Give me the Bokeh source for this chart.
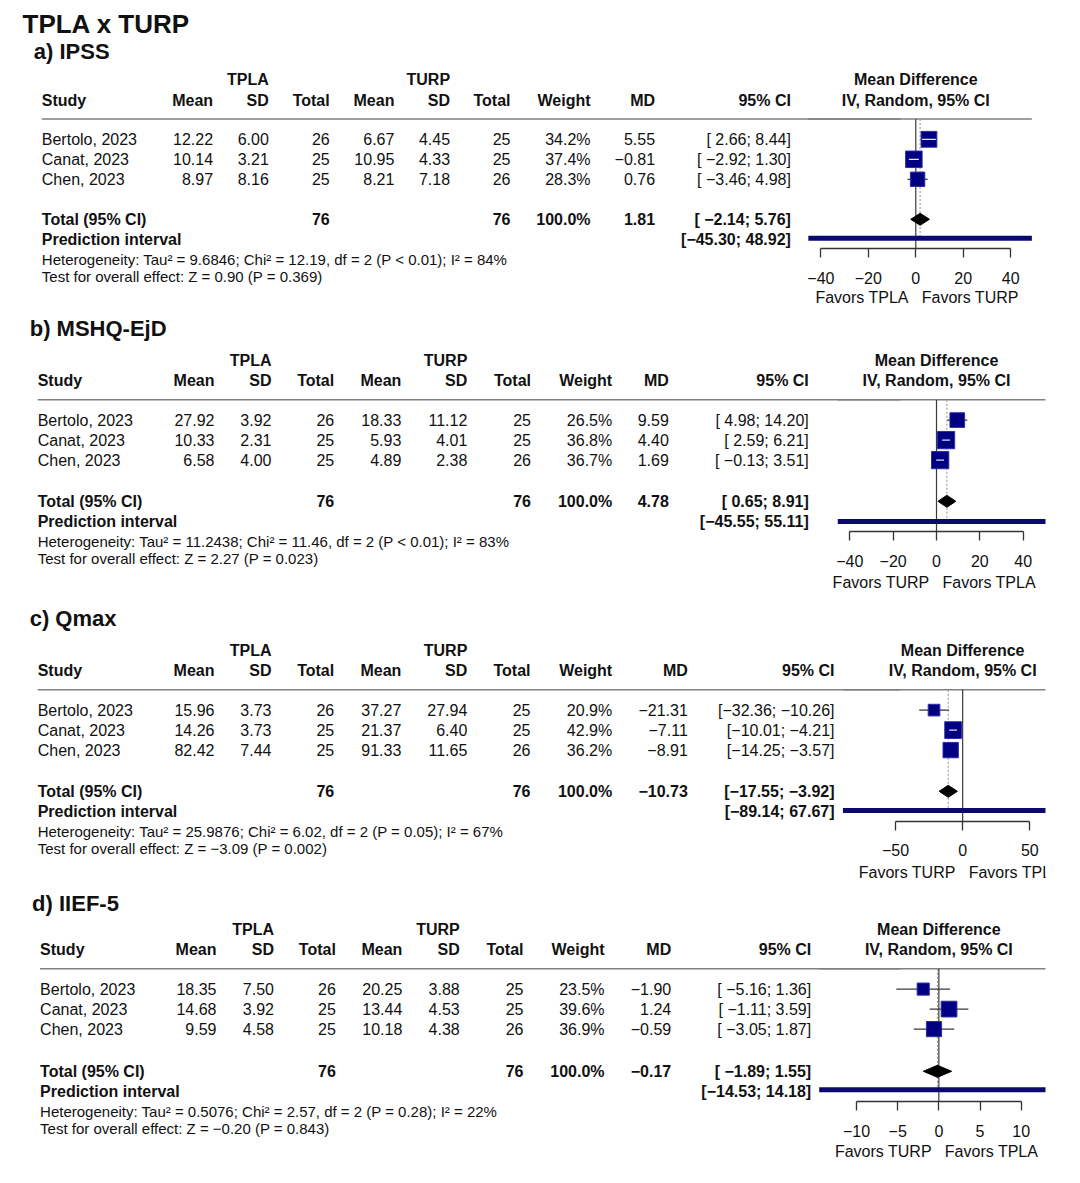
import re
import numpy as np
from bokeh.plotting import figure
from bokeh.models import Range1d, LinearAxis, FixedTicker
from bokeh.core.properties import value
from bokeh.embed import file_html
from bokeh.resources import INLINE

# ---------------- data ----------------
main_title = "TPLA x TURP"
studies = ["Bertolo, 2023", "Canat, 2023", "Chen, 2023"]
header_cols = ["Mean", "SD", "Total", "Mean", "SD", "Total", "Weight", "MD", "95% CI"]

# a) IPSS
ipss_tpla_mean = [12.22, 10.14, 8.97]
ipss_tpla_sd = [6.00, 3.21, 8.16]
ipss_tpla_n = [26, 25, 25]
ipss_turp_mean = [6.67, 10.95, 8.21]
ipss_turp_sd = [4.45, 4.33, 7.18]
ipss_turp_n = [25, 25, 26]
ipss_weight = [34.2, 37.4, 28.3]
ipss_md = [5.55, -0.81, 0.76]
ipss_lo = [2.66, -2.92, -3.46]
ipss_hi = [8.44, 1.30, 4.98]
ipss_total = [1.81, -2.14, 5.76]
ipss_pi = [-45.30, 48.92]
ipss_het = "Heterogeneity: Tau² = 9.6846; Chi² = 12.19, df = 2 (P < 0.01); I² = 84%"
ipss_test = "Test for overall effect: Z = 0.90 (P = 0.369)"
ipss_ticks = [-40, -20, 0, 20, 40]
ipss_favors = ["Favors TPLA", "Favors TURP"]

# b) MSHQ-EjD
mshq_tpla_mean = [27.92, 10.33, 6.58]
mshq_tpla_sd = [3.92, 2.31, 4.00]
mshq_tpla_n = [26, 25, 25]
mshq_turp_mean = [18.33, 5.93, 4.89]
mshq_turp_sd = [11.12, 4.01, 2.38]
mshq_turp_n = [25, 25, 26]
mshq_weight = [26.5, 36.8, 36.7]
mshq_md = [9.59, 4.40, 1.69]
mshq_lo = [4.98, 2.59, -0.13]
mshq_hi = [14.20, 6.21, 3.51]
mshq_total = [4.78, 0.65, 8.91]
mshq_pi = [-45.55, 55.11]
mshq_het = "Heterogeneity: Tau² = 11.2438; Chi² = 11.46, df = 2 (P < 0.01); I² = 83%"
mshq_test = "Test for overall effect: Z = 2.27 (P = 0.023)"
mshq_ticks = [-40, -20, 0, 20, 40]
mshq_favors = ["Favors TURP", "Favors TPLA"]

# c) Qmax
qmax_tpla_mean = [15.96, 14.26, 82.42]
qmax_tpla_sd = [3.73, 3.73, 7.44]
qmax_tpla_n = [26, 25, 25]
qmax_turp_mean = [37.27, 21.37, 91.33]
qmax_turp_sd = [27.94, 6.40, 11.65]
qmax_turp_n = [25, 25, 26]
qmax_weight = [20.9, 42.9, 36.2]
qmax_md = [-21.31, -7.11, -8.91]
qmax_lo = [-32.36, -10.01, -14.25]
qmax_hi = [-10.26, -4.21, -3.57]
qmax_total = [-10.73, -17.55, -3.92]
qmax_pi = [-89.14, 67.67]
qmax_het = "Heterogeneity: Tau² = 25.9876; Chi² = 6.02, df = 2 (P = 0.05); I² = 67%"
qmax_test = "Test for overall effect: Z = −3.09 (P = 0.002)"
qmax_ticks = [-50, 0, 50]
qmax_favors = ["Favors TURP", "Favors TPLA"]

# d) IIEF-5
iief_tpla_mean = [18.35, 14.68, 9.59]
iief_tpla_sd = [7.50, 3.92, 4.58]
iief_tpla_n = [26, 25, 25]
iief_turp_mean = [20.25, 13.44, 10.18]
iief_turp_sd = [3.88, 4.53, 4.38]
iief_turp_n = [25, 25, 26]
iief_weight = [23.5, 39.6, 36.9]
iief_md = [-1.90, 1.24, -0.59]
iief_lo = [-5.16, -1.11, -3.05]
iief_hi = [1.36, 3.59, 1.87]
iief_total = [-0.17, -1.89, 1.55]
iief_pi = [-14.53, 14.18]
iief_het = "Heterogeneity: Tau² = 0.5076; Chi² = 2.57, df = 2 (P = 0.28); I² = 22%"
iief_test = "Test for overall effect: Z = −0.20 (P = 0.843)"
iief_ticks = [-10, -5, 0, 5, 10]
iief_favors = ["Favors TURP", "Favors TPLA"]

panels = [
    dict(label="a)  IPSS", tm=ipss_tpla_mean, ts=ipss_tpla_sd, tn=ipss_tpla_n, um=ipss_turp_mean,
         us=ipss_turp_sd, un=ipss_turp_n, w=ipss_weight, md=ipss_md, lo=ipss_lo, hi=ipss_hi,
         tot=ipss_total, pi=ipss_pi, het=ipss_het, test=ipss_test, ticks=ipss_ticks, fav=ipss_favors),
    dict(label="b)  MSHQ-EjD", tm=mshq_tpla_mean, ts=mshq_tpla_sd, tn=mshq_tpla_n, um=mshq_turp_mean,
         us=mshq_turp_sd, un=mshq_turp_n, w=mshq_weight, md=mshq_md, lo=mshq_lo, hi=mshq_hi,
         tot=mshq_total, pi=mshq_pi, het=mshq_het, test=mshq_test, ticks=mshq_ticks, fav=mshq_favors),
    dict(label="c)  Qmax", tm=qmax_tpla_mean, ts=qmax_tpla_sd, tn=qmax_tpla_n, um=qmax_turp_mean,
         us=qmax_turp_sd, un=qmax_turp_n, w=qmax_weight, md=qmax_md, lo=qmax_lo, hi=qmax_hi,
         tot=qmax_total, pi=qmax_pi, het=qmax_het, test=qmax_test, ticks=qmax_ticks, fav=qmax_favors),
    dict(label="d)  IIEF-5", tm=iief_tpla_mean, ts=iief_tpla_sd, tn=iief_tpla_n, um=iief_turp_mean,
         us=iief_turp_sd, un=iief_turp_n, w=iief_weight, md=iief_md, lo=iief_lo, hi=iief_hi,
         tot=iief_total, pi=iief_pi, het=iief_het, test=iief_test, ticks=iief_ticks, fav=iief_favors),
]

# ---------------- layout (page pixels) ----------------
LAYOUT = [
    dict(sub_y=51.3, line_y=118.5, study_x=41.3,
         cols=[212.6, 268.3, 329.2, 393.9, 449.6, 510, 590, 654.6, 790.4],
         anchors=(820.4, 1010.2), sq=2.7, axis_off=129.5, fav_off=178.5, pi_off=119.3, tail=-1.2),
    dict(sub_y=327.5, line_y=399.3, study_x=37.2,
         cols=[214, 271, 333.7, 400.8, 466.8, 530.5, 611.7, 668.3, 808.3],
         anchors=(849.3, 1022.7), sq=2.85, axis_off=131.7, fav_off=182.7, pi_off=121.7, tail=0),
    dict(sub_y=617.5, line_y=689.3, study_x=37.2,
         cols=[214, 271, 333.7, 400.8, 466.8, 530, 611.7, 687.3, 834],
         anchors=(895, 1029.3), sq=2.55, axis_off=131.4, fav_off=182.4, pi_off=120.7, tail=0),
    dict(sub_y=903, line_y=968.3, study_x=39.6,
         cols=[216, 273.5, 335.4, 401.8, 459.2, 523, 604, 670.7, 810.7],
         anchors=(856, 1020.7), sq=2.5, axis_off=132.7, fav_off=182.4, pi_off=121, tail=1.0),
]

FONT = "Liberation Sans"
TXT = "#111111"
NAVY = "#000080"
X0, X1 = 0, 1045     # frame left/right in page px (page has no body margin)
Y0, Y1 = 0, 1175
W, H = 1064, 1175


def fmt(v):
    return f"{v:.2f}".replace("-", "−")


def ci_strings(los, his):
    los_s = [fmt(v) for v in los]
    his_s = [fmt(v) for v in his]
    wl = max(len(s) for s in los_s)
    wh = max(len(s) for s in his_s)
    out = []
    for a, b in zip(los_s, his_s):
        s = "[" + a.rjust(wl) + "; " + b.rjust(wh) + "]"
        out.append(re.sub(r" +", " ", s))
    return out


p = figure(width=W, height=H, x_range=Range1d(X0, X1), y_range=Range1d(Y1, Y0),
           output_backend="svg", toolbar_location=None, x_axis_location=None,
           y_axis_location=None, min_border_left=0, min_border_right=W - (X1 - X0),
           min_border_top=0, min_border_bottom=0)
p.grid.visible = False
p.outline_line_color = None
p.background_fill_color = "white"


def txt(x, y, texts, align="left", size="16px", bold=False, rn=None, x_offset=0, color=TXT):
    kw = {}
    if rn:
        kw["x_range_name"] = rn
    p.text(x=x, y=y, text=texts, text_align=align, text_baseline="middle",
           text_font=value(FONT), text_font_size=size,
           text_font_style="bold" if bold else "normal", text_color=color,
           x_offset=x_offset, **kw)


txt([22], [23.5], [main_title], size="26px", bold=True)

for i, (d, L) in enumerate(zip(panels, LAYOUT)):
    ly = L["line_y"]
    cols = L["cols"]
    sx = L["study_x"]
    t = L["tail"]
    y_tp = ly - 39.5
    y_st = ly - 19
    rows = [ly + 20.3 + 20 * k for k in range(len(studies))]
    y_tot = ly + 101.5 + t
    y_pred = ly + 121.8 + t
    y_het = ly + 141.3 + t
    y_test = ly + 158.8 + t

    # subtitle
    txt([sx - 8], [L["sub_y"]], [d["label"]], size="22px", bold=True)

    # headers
    txt([cols[1], cols[4]], [y_tp, y_tp], ["TPLA", "TURP"], align="right", bold=True)
    txt([sx], [y_st], ["Study"], bold=True)
    txt(cols, [y_st] * len(cols), header_cols, align="right", bold=True)

    # study rows
    txt([sx] * 3, rows, studies)
    n = len(studies)
    all_ci = ci_strings(d["lo"] + [d["tot"][1], d["pi"][0]], d["hi"] + [d["tot"][2], d["pi"][1]])
    columns = [
        [fmt(v) for v in d["tm"]], [fmt(v) for v in d["ts"]], [str(v) for v in d["tn"]],
        [fmt(v) for v in d["um"]], [fmt(v) for v in d["us"]], [str(v) for v in d["un"]],
        [f"{v:.1f}%" for v in d["w"]], [fmt(v) for v in d["md"]], all_ci[:n],
    ]
    for cx, vals in zip(cols, columns):
        txt([cx] * n, rows, vals, align="right")

    # total / prediction rows
    txt([sx, sx], [y_tot, y_pred], ["Total (95% CI)", "Prediction interval"], bold=True)
    txt([cols[2], cols[5], cols[6], cols[7], cols[8]], [y_tot] * 5,
        [str(sum(d["tn"])), str(sum(d["un"])), "100.0%", fmt(d["tot"][0]), all_ci[n]],
        align="right", bold=True)
    txt([cols[8]], [y_pred], [all_ci[n + 1]], align="right", bold=True)
    txt([sx, sx], [y_het, y_test], [d["het"], d["test"]], size="15px")

    # ---- forest part ----
    ticks = d["ticks"]
    px0, px1 = L["anchors"]
    scale = (px1 - px0) / (ticks[-1] - ticks[0])
    rn = f"f{i}"
    p.extra_x_ranges[rn] = Range1d(ticks[0] + (X0 - px0) / scale, ticks[0] + (X1 - px0) / scale)

    y_axis = ly + L["axis_off"]
    y_pi = ly + L["pi_off"]
    y_fav = ly + L["fav_off"]

    # header rule (table part + forest part)
    p.segment(x0=[sx], x1=[900], y0=[ly], y1=[ly], line_color="#808080", line_width=1.6)
    p.segment(x0=[d["pi"][0]], x1=[d["pi"][1]], y0=[ly], y1=[ly], line_color="#808080",
              line_width=1.6, x_range_name=rn)

    txt([0], [y_tp], ["Mean Difference"], align="center", bold=True, rn=rn)
    txt([0], [y_st], ["IV, Random, 95% CI"], align="center", bold=True, rn=rn)

    # reference lines
    p.segment(x0=[0], x1=[0], y0=[ly], y1=[y_axis], line_color="#3a3a3a", line_width=1.2,
              x_range_name=rn)
    p.segment(x0=[d["tot"][0]], x1=[d["tot"][0]], y0=[ly], y1=[y_pi], line_color="#a0a0a0",
              line_width=1.2, line_dash="2 2", x_range_name=rn)

    # CIs and squares
    p.segment(x0=d["lo"], x1=d["hi"], y0=rows, y1=rows, line_color="#3a3a3a", line_width=1.3,
              x_range_name=rn)
    sizes = [L["sq"] * np.sqrt(w) for w in d["w"]]
    p.scatter(x=d["md"], y=rows, marker="square", size=sizes, fill_color=NAVY,
              line_color="#2c2ca8", line_width=1, x_range_name=rn)
    inside = [k for k in range(n) if (d["hi"][k] - d["lo"][k]) * scale < sizes[k] - 1]
    if inside:
        p.segment(x0=[d["lo"][k] for k in inside], x1=[d["hi"][k] for k in inside],
                  y0=[rows[k] for k in inside], y1=[rows[k] for k in inside],
                  line_color="#e8e8ff", line_width=1.2, x_range_name=rn)

    # pooled diamond
    h = 6
    md_t, lo_t, hi_t = d["tot"]
    p.patches(xs=[[lo_t, md_t, hi_t, md_t]], ys=[[y_tot, y_tot - h, y_tot, y_tot + h]],
              fill_color="black", line_color="black", line_width=1, x_range_name=rn)

    # prediction interval
    p.segment(x0=[d["pi"][0]], x1=[d["pi"][1]], y0=[y_pi], y1=[y_pi], line_color="#0a0a6e",
              line_width=5, x_range_name=rn)

    # axis
    ax = LinearAxis(x_range_name=rn, ticker=FixedTicker(ticks=ticks, minor_ticks=[]),
                    bounds=(ticks[0], ticks[-1]), fixed_location=y_axis,
                    major_tick_out=9, major_tick_in=0, minor_tick_out=0, minor_tick_in=0,
                    axis_line_color="#333333", axis_line_width=1.3,
                    major_tick_line_color="#333333", major_tick_line_width=1.3,
                    major_label_text_font=FONT, major_label_text_font_size="16px",
                    major_label_text_color=TXT, major_label_standoff=14,
                    major_label_overrides={tk: str(tk).replace("-", "−") for tk in ticks})
    p.add_layout(ax, "below")

    txt([0], [y_fav], [d["fav"][0]], align="right", rn=rn, x_offset=-7)
    txt([0], [y_fav], [d["fav"][1]], align="left", rn=rn, x_offset=6)

open("out.html", "w").write(file_html(p, INLINE))
